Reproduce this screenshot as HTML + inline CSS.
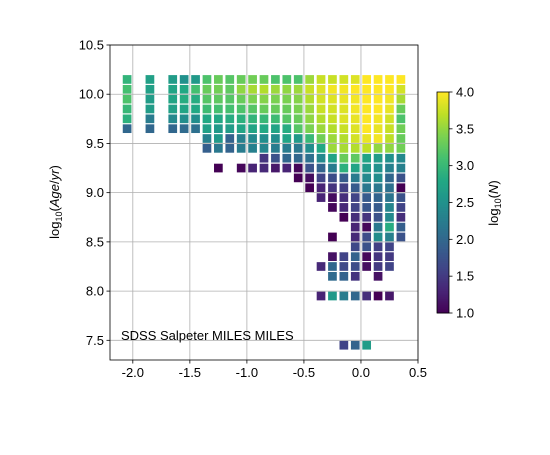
<!DOCTYPE html>
<html><head><meta charset="utf-8"><style>
body{margin:0;background:#fff}
svg text{font-family:"Liberation Sans","DejaVu Sans",sans-serif;font-size:13px;fill:#000}
</style></head><body>
<svg id="chart" width="550" height="450">
<rect x="0" y="0" width="550" height="450" fill="#fff"/>
<g id="cells"></g><g id="grid"></g><g id="axes"></g><g id="cbar"></g>
<text x="121" y="340">SDSS Salpeter MILES MILES</text>
<text transform="translate(59,202) rotate(-90)" text-anchor="middle">log<tspan font-size="9" dy="3">10</tspan><tspan dy="-3">(</tspan><tspan font-style="italic">Age</tspan>/<tspan font-style="italic">yr</tspan>)</text>
<text transform="translate(498,203) rotate(-90)" text-anchor="middle">log<tspan font-size="9" dy="3">10</tspan><tspan dy="-3">(</tspan><tspan font-style="italic">N</tspan>)</text>
</svg>
<script>
const xStart=-2.05, xStep=0.1;
const yVals=[10.15,10.05,9.95,9.85,9.75,9.65,9.55,9.45,9.35,9.25,9.15,9.05,8.95,8.85,8.75,8.65,8.55,8.45,8.35,8.25,8.15,7.95,7.45];
const n=null;
const counts=[
[2.95,n,2.7,n,2.65,2.5,2.6,3.15,3.3,3.2,3.3,3.35,3.3,3.15,3.15,3.15,3.55,3.75,3.75,3.8,3.85,4,4,4,4],
[3.1,n,2.7,n,2.75,2.8,3.1,3.3,3.35,3.25,3.5,3.6,3.65,3.55,3.5,3.55,3.75,3.85,3.95,3.95,4,4,4,4,3.8],
[3.15,n,2.65,n,2.75,2.85,2.85,3.2,3.25,3.2,3.3,3.4,3.45,3.4,3.4,3.45,3.65,3.8,3.85,3.9,3.95,4,4,3.95,3.6],
[3.0,n,2.65,n,2.7,2.75,2.8,3.05,3.1,3.1,3.15,3.2,3.3,3.3,3.3,3.4,3.55,3.75,3.8,3.85,3.95,4,4,3.9,3.3],
[2.9,n,2.25,n,2.4,2.45,2.45,2.8,2.8,2.85,2.9,2.95,3.0,3.05,3.2,3.3,3.5,3.65,3.75,3.85,3.9,4,3.95,3.8,3.15],
[2.0,n,2.0,n,2.0,2.05,2.1,2.7,2.6,2.65,2.75,2.75,2.8,2.75,2.85,3.2,3.4,3.55,3.65,3.75,3.85,4,3.9,3.75,3.35],
[n,n,n,n,n,n,n,2.3,2.6,1.95,2.3,2.4,2.45,2.45,2.75,2.6,3.0,3.35,3.55,3.65,3.8,3.9,3.95,3.7,3.3],
[n,n,n,n,n,n,n,1.9,2.2,1.95,2.25,2.3,2.35,2.25,2.25,2.2,2.45,2.8,3.55,3.6,3.65,3.7,3.5,3.5,3.35],
[n,n,n,n,n,n,n,n,n,n,n,n,1.45,1.75,2.0,2.0,2.1,2.4,2.75,3.3,3.25,2.75,2.65,2.5,2.4],
[n,n,n,n,n,n,n,n,1.0,n,1.05,1.3,1.35,1.2,1.3,1.05,1.75,1.95,2.25,2.9,2.75,2.6,2.5,2.3,2.3],
[n,n,n,n,n,n,n,n,n,n,n,n,n,n,n,1.0,1.1,1.6,1.7,1.85,2.25,2.4,2.45,2.0,1.75],
[n,n,n,n,n,n,n,n,n,n,n,n,n,n,n,n,1.0,1.3,1.45,1.55,1.85,2.2,2.2,2.1,1.0],
[n,n,n,n,n,n,n,n,n,n,n,n,n,n,n,n,n,1.3,1.1,1.4,1.6,1.85,1.95,2.15,1.75],
[n,n,n,n,n,n,n,n,n,n,n,n,n,n,n,n,n,n,1.05,1.35,1.6,1.8,1.85,2.35,1.6],
[n,n,n,n,n,n,n,n,n,n,n,n,n,n,n,n,n,n,n,1.0,1.4,1.45,1.75,2.4,1.4],
[n,n,n,n,n,n,n,n,n,n,n,n,n,n,n,n,n,n,n,n,1.3,1.05,2.2,2.85,1.9],
[n,n,n,n,n,n,n,n,n,n,n,n,n,n,n,n,n,n,1.0,n,1.35,1.7,2.45,2.3,1.75],
[n,n,n,n,n,n,n,n,n,n,n,n,n,n,n,n,n,n,n,n,1.65,1.75,1.55,1.6,n],
[n,n,n,n,n,n,n,n,n,n,n,n,n,n,n,n,n,n,1.15,1.6,1.95,1.05,1.45,1.5,n],
[n,n,n,n,n,n,n,n,n,n,n,n,n,n,n,n,n,1.35,2.0,1.65,1.7,1.1,1.5,1.6,n],
[n,n,n,n,n,n,n,n,n,n,n,n,n,n,n,n,n,n,2.05,1.95,1.45,n,1.15,n,n],
[n,n,n,n,n,n,n,n,n,n,n,n,n,n,n,n,n,1.3,2.6,2.25,2.0,1.4,1.0,1.2,n],
[n,n,n,n,n,n,n,n,n,n,n,n,n,n,n,n,n,n,n,1.6,1.95,2.65,n,n,n]
];
const xTicks=[-2.0,-1.5,-1.0,-0.5,0.0,0.5];
const yTicks=[7.5,8.0,8.5,9.0,9.5,10.0,10.5];
const cTicks=[1.0,1.5,2.0,2.5,3.0,3.5,4.0];

const L=110,R=418,T=45,B=360, xmin=-2.2,xmax=0.5,ymin=7.3,ymax=10.5;
const sx=v=>L+(v-xmin)/(xmax-xmin)*(R-L);
const sy=v=>B-(v-ymin)/(ymax-ymin)*(B-T);
const vir=["#440154","#482475","#414487","#355f8d","#2a788e","#21918c","#22a884","#44bf70","#7ad151","#bddf26","#fde725"];
function hex(h){return [1,3,5].map(i=>parseInt(h.substr(i,2),16));}
function cmap(v){let t=Math.max(0,Math.min(1,(v-1)/3))*10;let i=Math.min(9,Math.floor(t));let f=t-i;
 const a=hex(vir[i]),b=hex(vir[i+1]);return "rgb("+a.map((c,j)=>Math.round(c+(b[j]-c)*f)).join(",")+")";}
const NS="http://www.w3.org/2000/svg";
function mk(tag,attrs,parent,txt){const e=document.createElementNS(NS,tag);for(const k in attrs)e.setAttribute(k,attrs[k]);if(txt!==undefined)e.textContent=txt;parent.appendChild(e);return e;}
const cells=document.getElementById('cells'),grid=document.getElementById('grid'),axes=document.getElementById('axes'),cbar=document.getElementById('cbar');
const S=8.7;
yVals.forEach((yv,r)=>{counts[r].forEach((v,k)=>{if(v===null)return;const xv=xStart+xStep*k;
 const e=mk('rect',{x:sx(xv)-S/2,y:sy(yv)-S/2,width:S,height:S,fill:cmap(v)},cells);
 
 });});
xTicks.forEach(t=>{const x=sx(t);
 const g=mk('line',{x1:x,x2:x,y1:T,y2:B,stroke:'#b0b0b0','stroke-width':0.8},grid);
 
 mk('line',{x1:x,x2:x,y1:B,y2:B+3.5,stroke:'#000','stroke-width':0.8},axes);
 const l=mk('text',{x:x,y:B+17,'text-anchor':'middle'},axes,t.toFixed(1));
 });
yTicks.forEach(t=>{const y=sy(t);
 const g=mk('line',{x1:L,x2:R,y1:y,y2:y,stroke:'#b0b0b0','stroke-width':0.8},grid);
 
 mk('line',{x1:L-3.5,x2:L,y1:y,y2:y,stroke:'#000','stroke-width':0.8},axes);
 const l=mk('text',{x:L-6,y:y+4.5,'text-anchor':'end'},axes,t.toFixed(1));
 });
const fr=mk('rect',{x:L,y:T,width:R-L,height:B-T,fill:'none',stroke:'#000','stroke-width':0.8},axes);

const CL=437,CR=449,CT=92,CB=313;
const cy=v=>CB-(v-1)/3*(CB-CT);
for(let i=0;i<110;i++){const v0=1+3*i/110,v1=1+3*(i+1)/110;
 mk('rect',{x:CL,y:cy(v1),width:CR-CL,height:cy(v0)-cy(v1)+0.5,fill:cmap((v0+v1)/2)},cbar);}
const cf=mk('rect',{x:CL,y:CT,width:CR-CL,height:CB-CT,fill:'none',stroke:'#000','stroke-width':0.8},cbar);

cTicks.forEach(t=>{const y=cy(t);mk('line',{x1:CR,x2:CR+3.5,y1:y,y2:y,stroke:'#000','stroke-width':0.8},cbar);
 const l=mk('text',{x:CR+7,y:y+4.5},cbar,t.toFixed(1));
 });
</script>
</body></html>
